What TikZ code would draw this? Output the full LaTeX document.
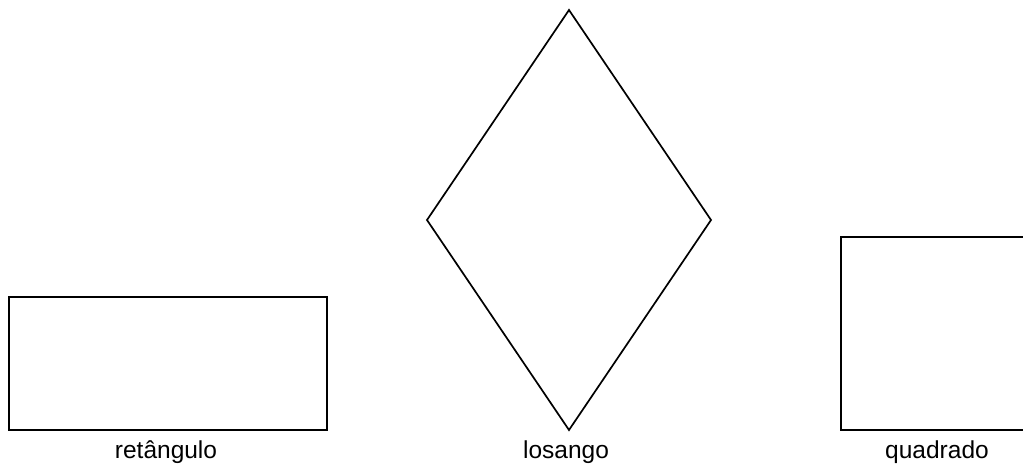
\documentclass[tikz,border=0pt]{standalone}
\usepackage{fontspec}
\setmainfont{Liberation Sans}
\begin{document}
\begin{tikzpicture}[x=1pt,y=-1pt,
    figura/.style={line width=1.7pt,line join=miter},
    rotulo/.style={font=\fontsize{24.5}{30}\selectfont,anchor=base,inner sep=0pt}]
    \useasboundingbox (0,0) rectangle (1023,464);
    \clip (0,0) rectangle (1023,464);
    % retangulo
    \draw[figura] (9,297) rectangle (327,430);
    % losango
    \coordinate (topo) at (569,10);
    \coordinate (dir) at (711,220);
    \coordinate (base) at (569,430);
    \coordinate (esq) at (427,220);
    \draw[figura] (topo) -- (dir) -- (base) -- (esq) -- cycle;
    % quadrado
    \draw[figura] (841,237) rectangle (1034,430);
    \node[rotulo] (ret) at (166,458) {retângulo};
    \node[rotulo] (los) at (566,458) {losango};
    \node[rotulo] (quad) at (937,458) {quadrado};
\end{tikzpicture}
\end{document}
